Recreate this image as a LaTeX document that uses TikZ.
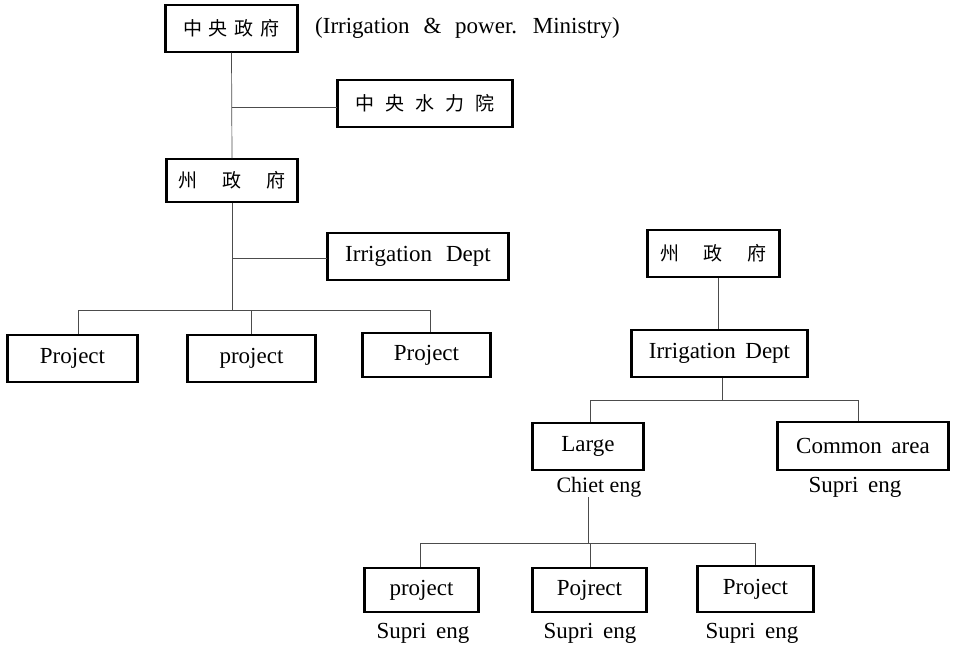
\documentclass[tikz,border=0pt]{standalone}
\usepackage{fontspec}
\setmainfont{Liberation Serif}
\newfontfamily\cjk{Noto Sans CJK SC}
\newcommand{\latinfont}{\fontsize{23}{26}\selectfont\spaceskip=0.42em\relax}
\newcommand{\ministryfont}{\fontsize{23}{26}\selectfont\spaceskip=0.6em\relax}
\newcommand{\plainfont}{\fontsize{22}{26}\selectfont}
\tikzset{
  box/.style={draw, line width=1.3pt, inner sep=0pt, font=\latinfont},
  cjkbox/.style={box, font=\cjk\fontsize{19}{22}\selectfont},
  conn/.style={line width=0.7pt, draw=black!70},
  lbl/.style={font=\latinfont, inner sep=0pt},
  side/.style={line width=3pt},
}
\newcommand{\cgap}[1]{\hspace{#1pt}}
\begin{document}
\begin{tikzpicture}[x=1pt,y=-1pt]
\useasboundingbox (0,0) rectangle (955,646);
% left tree
\node[cjkbox, minimum width=131pt, minimum height=47pt] (cg) at (231.5,28.5) {中\cgap{7}央\cgap{7}政\cgap{7}府};
\node[lbl, anchor=west, font=\ministryfont] (min) at (315,28) {(Irrigation \& power. Ministry)};
\node[cjkbox, minimum width=174pt, minimum height=47pt] (hy) at (425,103.5) {中\cgap{11}央\cgap{11}水\cgap{11}力\cgap{11}院};
\node[cjkbox, minimum width=130pt, minimum height=43pt] (z1) at (232,180.5) {州\cgap{25}政\cgap{25}府};
\node[box, minimum width=180pt, minimum height=47pt] (d1) at (418,256.5) {Irrigation\hspace{14pt}Dept};
\node[box, minimum width=129pt, minimum height=47pt] (p1) at (72.5,358.5) {Project};
\node[box, minimum width=127pt, minimum height=47pt] (p2) at (251.5,358.5) {project};
\node[box, minimum width=127pt, minimum height=44pt] (p3) at (426.5,355) {Project};
% right tree
\node[cjkbox, minimum width=131pt, minimum height=47pt] (z2) at (713.5,253.5) {州\cgap{25}政\cgap{25}府};
\node[box, minimum width=175pt, minimum height=47pt] (d2) at (719.5,353.5) {Irrigation Dept};
\node[box, minimum width=110pt, minimum height=47pt] (lg) at (588,446.5) {Large};
\node[box, minimum width=170pt, minimum height=48pt] (ca) at (863,446) {Common area};
\node[lbl, font=\plainfont] (lgl) at (599,487) {Chiet eng};
\node[lbl] (cal) at (855,487) {Supri eng};
\node[box, minimum width=113pt, minimum height=44pt] (q1) at (421.5,590) {project};
\node[box, minimum width=113pt, minimum height=44pt] (q2) at (589.5,590) {Pojrect};
\node[box, minimum width=115pt, minimum height=46pt] (q3) at (755.5,589) {Project};
\node[lbl] (q1l) at (423,633) {Supri eng};
\node[lbl] (q2l) at (590,633) {Supri eng};
\node[lbl] (q3l) at (752,633) {Supri eng};
% thick vertical sides
\foreach \n in {cg,hy,z1,d1,p1,p2,p3,z2,d2,lg,ca,q1,q2,q3}
  \draw[side] (\n.north west) -- (\n.south west) (\n.north east) -- (\n.south east);
% connectors left
\draw[conn] (cg.south) -- (z1.north);
\coordinate (t1) at (cg.south |- 0,107);
\draw[conn] (t1) -- (t1 -| hy.west);
\coordinate (t2) at (z1.south |- 0,258);
\draw[conn] (t2) -- (t2 -| d1.west);
\coordinate (b1) at (z1.south |- 0,310);
\draw[conn] (z1.south) -- (b1);
\coordinate (b1l) at (78,310);
\coordinate (b1m) at (251,310);
\coordinate (b1r) at (430,310);
\draw[conn] (b1l) -- (b1r);
\draw[conn] (b1l) -- (b1l |- p1.north);
\draw[conn] (b1m) -- (b1m |- p2.north);
\draw[conn] (b1r) -- (b1r |- p3.north);
% connectors right
\coordinate (r0) at (718,0);
\draw[conn] (r0 |- z2.south) -- (r0 |- d2.north);
\coordinate (b2) at (722,400);
\draw[conn] (b2 |- d2.south) -- (b2);
\coordinate (b2l) at (590,400);
\coordinate (b2r) at (858,400);
\draw[conn] (b2l) -- (b2r);
\draw[conn] (b2l) -- (b2l |- lg.north);
\draw[conn] (b2r) -- (b2r |- ca.north);
\coordinate (b3) at (588,543);
\draw[conn] (b3 |- lgl.south) -- (b3);
\coordinate (b3l) at (420,543);
\coordinate (b3m) at (590,543);
\coordinate (b3r) at (755,543);
\draw[conn] (b3l) -- (b3r);
\draw[conn] (b3l) -- (b3l |- q1.north);
\draw[conn] (b3m) -- (b3m |- q2.north);
\draw[conn] (b3r) -- (b3r |- q3.north);
\end{tikzpicture}
\end{document}
